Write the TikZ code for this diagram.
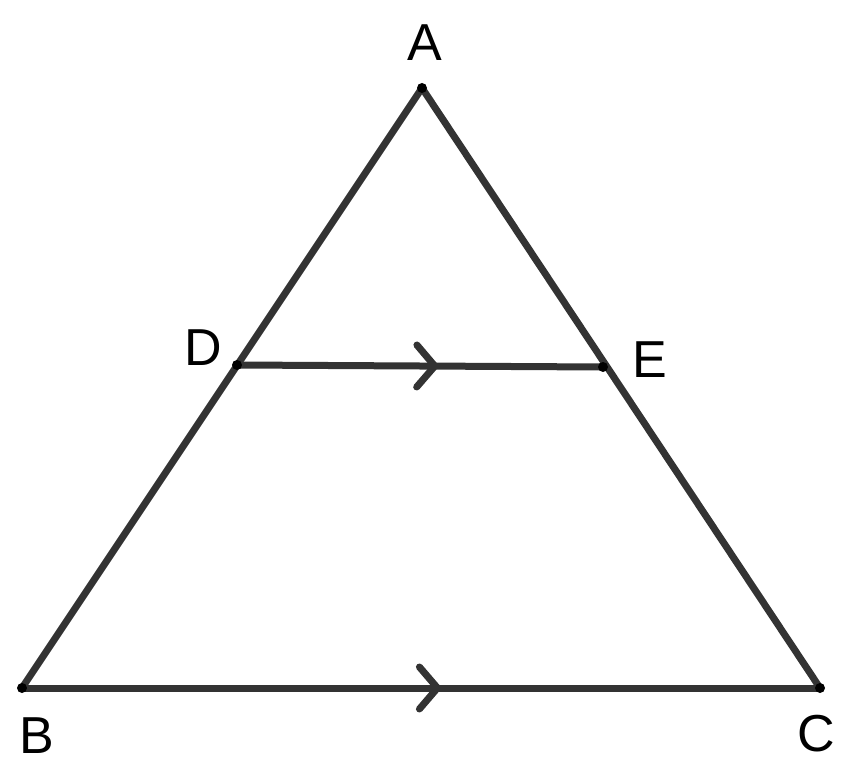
\documentclass[tikz,border=0pt]{standalone}
\usepackage{fontspec}
\setmainfont{Liberation Sans}
\usepackage{tikz}
\usetikzlibrary{positioning,calc,arrows.meta,decorations.markings}
\definecolor{edge-col}{rgb}{0.2,0.2,0.2}

\tikzset{
  side/.style={draw=edge-col, line width=7pt, line cap=round, line join=round},
  vertex/.style={circle, fill=black, inner sep=0pt, minimum size=10pt},
  plabel/.style={font=\fontsize{52}{60}\selectfont, text=black, inner sep=0pt},
  parallel/.style={postaction={decorate, decoration={markings,
      mark=at position #1 with {\arrow[edge-col, line width=7pt]{Straight Barb[length=18pt, width=42pt, line cap=round, round]}}}}}
}

\begin{document}
\begin{tikzpicture}[x=1pt, y=-1pt]
\useasboundingbox (0,0) rectangle (850,775);
% corners and points on the sides
\coordinate (A) at (422,88);
\coordinate (B) at (22,688);
\coordinate (C) at (820,688);
\coordinate (D) at (237,365);
\coordinate (E) at (603,367);

% triangle
\draw[side] (B) -- (A) -- (C);
\draw[side, parallel=0.525] (B) -- (C);
\draw[side, parallel=0.55] (D) -- (E);

% dots
\foreach \p in {A,B,C,D,E}
  \node[vertex] (dot-\p) at (\p) {};

% labels
\node[plabel] (lab-A) at (425,43) {A};
\node[plabel] (lab-B) at (37,736) {B};
\node[plabel] (lab-C) at (816,734) {C};
\node[plabel] (lab-D) at (203,348) {D};
\node[plabel] (lab-E) at (650,360) {E};
\end{tikzpicture}
\end{document}
